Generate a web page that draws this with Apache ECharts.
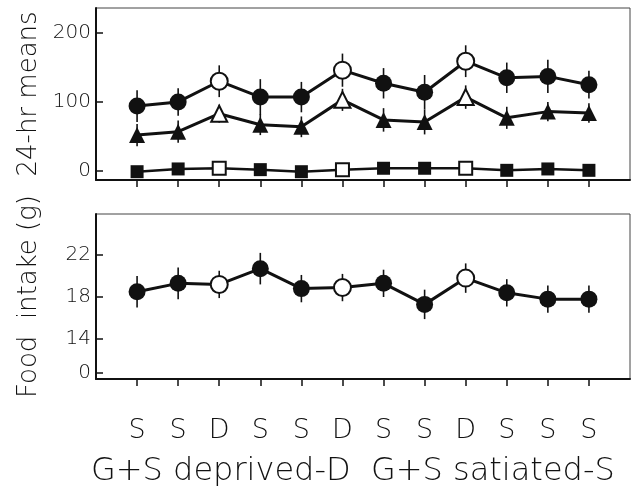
<!DOCTYPE html>
<html><head><meta charset="utf-8">
<script src="https://cdn.jsdelivr.net/npm/echarts@6/dist/echarts.min.js"></script>
<style>html,body{margin:0;padding:0;background:#fff}#c{width:632px;height:490px}</style>
</head><body><div id="c"></div>
<script>
const categories = ['S','S','D','S','S','D','S','S','D','S','S','S'];
const positions = [1,2,3,4,5,6,7,8,9,10,11,12];
const circleMeans = [94,100,130,107,107,146,127,114,159,135,137,125];
const circleErr = [23,20,23,26,22,24,22,25,23,22,24,20];
const triangleMeans = [52,57,83,67,64,103,74,71,107,77,86,84];
const triangleErr = [16,16,13,15,15,16,17,18,17,16,14,14];
const squareMeans = [-1,3,4,2,-1,2,4,4,4,1,3,1];
const foodMeans = [18.5,19.3,19.2,20.7,18.8,18.9,19.3,17.3,19.8,18.4,17.8,17.8];
const foodErr = [1.5,1.5,1.3,1.5,1.3,1.3,1.3,1.4,1.4,1.3,1.3,1.3];
const topTicks = [0,100,200];
const bottomTicks = [10.8,14,18,22];
const bottomTickLabels = ['0','14','18','22'];

const INK = '#111';
const FONT = 'DejaVu Sans';

function pts(vals){
  return vals.map((v,i)=>{
    const open = categories[i]==='D';
    return {value:[positions[i], v], itemStyle: open ? {color:'#fff', borderColor:INK, borderWidth:2} : {color:INK, borderColor:INK, borderWidth:0}};
  });
}
function errSeries(vals, errs, gi){
  return {
    type:'custom', xAxisIndex:gi, yAxisIndex:gi, z:1, silent:true,
    data: vals.map((v,i)=>[positions[i], v-errs[i], v+errs[i]]),
    renderItem:(params, api)=>{
      const a = api.coord([api.value(0), api.value(1)]);
      const b = api.coord([api.value(0), api.value(2)]);
      return {type:'line', shape:{x1:a[0],y1:a[1],x2:b[0],y2:b[1]}, style:{stroke:INK, lineWidth:1.6}};
    }
  };
}
function lineSeries(vals, gi, symbol, size, lw){
  return {type:'line', xAxisIndex:gi, yAxisIndex:gi, z:3, data:pts(vals), symbol:symbol, symbolSize:size,
    showSymbol:true, lineStyle:{color:INK, width:lw}, animation:false};
}
function xAxis(gi, showLabels){
  return {type:'value', gridIndex:gi, min:0, max:13,
    axisLine:{show:true, onZero:false, lineStyle:{color:INK, width:2}},
    axisTick:{show:true, inside:false, length:7, customValues:positions, lineStyle:{color:INK, width:1.5}},
    axisLabel:{show:showLabels, customValues:positions, margin:38, color:INK, fontFamily:FONT, fontWeight:200, fontSize:27,
      formatter:(v)=>categories[Math.round(v)-1] || ''},
    splitLine:{show:false}};
}
const chart = echarts.init(document.getElementById('c'), null, {renderer:'canvas'});
chart.setOption({
  animation:false,
  backgroundColor:'#fff',
  title:{text:'G+S deprived-D  G+S satiated-S', left:86, top:451,
    textStyle:{fontFamily:FONT, fontWeight:200, fontSize:32, color:INK}},
  grid:[
    {left:96, top:8, right:2, height:172, show:true, borderColor:'#444', borderWidth:1, backgroundColor:'transparent'},
    {left:96, top:214, right:2, height:165, show:true, borderColor:'#444', borderWidth:1, backgroundColor:'transparent'}
  ],
  xAxis:[xAxis(0,false), xAxis(1,true)],
  yAxis:[
    {type:'value', gridIndex:0, min:-13, max:236,
      name:'24-hr means', nameLocation:'middle', nameRotate:90, nameGap:54,
      nameTextStyle:{fontFamily:FONT, fontWeight:200, fontSize:26, color:INK},
      axisLine:{show:true, lineStyle:{color:INK, width:2}},
      axisTick:{show:true, inside:true, length:7, customValues:topTicks, lineStyle:{color:INK, width:1.5}},
      axisLabel:{customValues:topTicks, margin:5, color:INK, fontFamily:FONT, fontWeight:200, fontSize:20},
      splitLine:{show:false}},
    {type:'value', gridIndex:1, min:10.2, max:25.9,
      name:'Food  intake (g)', nameLocation:'middle', nameRotate:90, nameGap:54,
      nameTextStyle:{fontFamily:FONT, fontWeight:200, fontSize:26, color:INK},
      axisLine:{show:true, lineStyle:{color:INK, width:2}},
      axisTick:{show:true, inside:true, length:7, customValues:bottomTicks, lineStyle:{color:INK, width:1.5}},
      axisLabel:{customValues:bottomTicks, margin:5, color:INK, fontFamily:FONT, fontWeight:200, fontSize:20,
        formatter:(v)=>{const i=bottomTicks.indexOf(v); return i>=0?bottomTickLabels[i]:String(v);}},
      splitLine:{show:false}}
  ],
  series:[
    errSeries(circleMeans, circleErr, 0),
    errSeries(triangleMeans, triangleErr, 0),
    lineSeries(circleMeans, 0, 'circle', 17, 3),
    lineSeries(triangleMeans, 0, 'triangle', 16, 3),
    lineSeries(squareMeans, 0, 'rect', 13, 2.5),
    errSeries(foodMeans, foodErr, 1),
    lineSeries(foodMeans, 1, 'circle', 17, 3)
  ]
});
</script></body></html>
